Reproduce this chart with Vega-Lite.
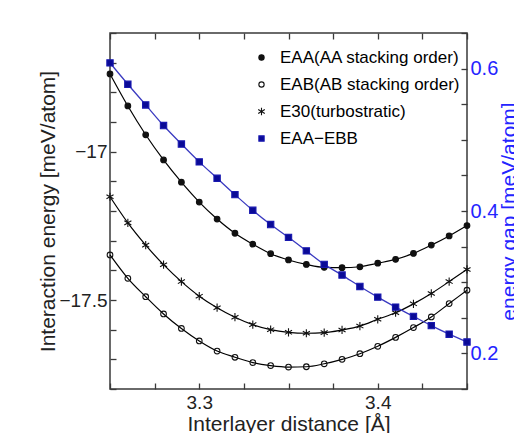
{
  "$schema": "https://vega.github.io/schema/vega-lite/v6.json",
  "width": 357,
  "height": 356,
  "autosize": {"type": "none"},
  "padding": {"left": 110, "top": 33, "right": 47, "bottom": 44},
  "background": "white",
  "config": {
    "view": {"stroke": "#3a3a3a", "strokeWidth": 1.5},
    "font": "Liberation Sans",
    "axis": {
      "domain": false, "grid": false, "tickColor": "#3a3a3a", "tickWidth": 1.3, "tickSize": -6,
      "labelFont": "Liberation Sans", "titleFont": "Liberation Sans",
      "labelFontSize": 19, "titleFontSize": 21, "titleFontWeight": "normal",
      "labelColor": "#222222", "titleColor": "#222222", "labelOverlap": false
    },
    "legend": {"labelFont": "Liberation Sans"}
  },
  "datasets": {
    "energies": [
      {"distance": 3.25, "energy": -16.738, "series": "AA"},
      {"distance": 3.26, "energy": -16.846, "series": "AA"},
      {"distance": 3.27, "energy": -16.943, "series": "AA"},
      {"distance": 3.28, "energy": -17.028, "series": "AA"},
      {"distance": 3.29, "energy": -17.103, "series": "AA"},
      {"distance": 3.30, "energy": -17.170, "series": "AA"},
      {"distance": 3.31, "energy": -17.227, "series": "AA"},
      {"distance": 3.32, "energy": -17.275, "series": "AA"},
      {"distance": 3.33, "energy": -17.312, "series": "AA"},
      {"distance": 3.34, "energy": -17.344, "series": "AA"},
      {"distance": 3.35, "energy": -17.365, "series": "AA"},
      {"distance": 3.36, "energy": -17.380, "series": "AA"},
      {"distance": 3.37, "energy": -17.390, "series": "AA"},
      {"distance": 3.38, "energy": -17.391, "series": "AA"},
      {"distance": 3.39, "energy": -17.388, "series": "AA"},
      {"distance": 3.40, "energy": -17.376, "series": "AA"},
      {"distance": 3.41, "energy": -17.363, "series": "AA"},
      {"distance": 3.42, "energy": -17.343, "series": "AA"},
      {"distance": 3.43, "energy": -17.315, "series": "AA"},
      {"distance": 3.44, "energy": -17.284, "series": "AA"},
      {"distance": 3.45, "energy": -17.249, "series": "AA"},
      {"distance": 3.25, "energy": -17.348, "series": "AB"},
      {"distance": 3.26, "energy": -17.427, "series": "AB"},
      {"distance": 3.27, "energy": -17.489, "series": "AB"},
      {"distance": 3.28, "energy": -17.547, "series": "AB"},
      {"distance": 3.29, "energy": -17.596, "series": "AB"},
      {"distance": 3.30, "energy": -17.638, "series": "AB"},
      {"distance": 3.31, "energy": -17.672, "series": "AB"},
      {"distance": 3.32, "energy": -17.693, "series": "AB"},
      {"distance": 3.33, "energy": -17.711, "series": "AB"},
      {"distance": 3.34, "energy": -17.721, "series": "AB"},
      {"distance": 3.35, "energy": -17.726, "series": "AB"},
      {"distance": 3.36, "energy": -17.725, "series": "AB"},
      {"distance": 3.37, "energy": -17.715, "series": "AB"},
      {"distance": 3.38, "energy": -17.700, "series": "AB"},
      {"distance": 3.39, "energy": -17.681, "series": "AB"},
      {"distance": 3.40, "energy": -17.656, "series": "AB"},
      {"distance": 3.41, "energy": -17.626, "series": "AB"},
      {"distance": 3.42, "energy": -17.593, "series": "AB"},
      {"distance": 3.43, "energy": -17.557, "series": "AB"},
      {"distance": 3.44, "energy": -17.512, "series": "AB"},
      {"distance": 3.45, "energy": -17.467, "series": "AB"},
      {"distance": 3.25, "energy": -17.152, "series": "30"},
      {"distance": 3.26, "energy": -17.240, "series": "30"},
      {"distance": 3.27, "energy": -17.315, "series": "30"},
      {"distance": 3.28, "energy": -17.381, "series": "30"},
      {"distance": 3.29, "energy": -17.438, "series": "30"},
      {"distance": 3.30, "energy": -17.487, "series": "30"},
      {"distance": 3.31, "energy": -17.526, "series": "30"},
      {"distance": 3.32, "energy": -17.558, "series": "30"},
      {"distance": 3.33, "energy": -17.583, "series": "30"},
      {"distance": 3.34, "energy": -17.600, "series": "30"},
      {"distance": 3.35, "energy": -17.609, "series": "30"},
      {"distance": 3.36, "energy": -17.612, "series": "30"},
      {"distance": 3.37, "energy": -17.610, "series": "30"},
      {"distance": 3.38, "energy": -17.601, "series": "30"},
      {"distance": 3.39, "energy": -17.588, "series": "30"},
      {"distance": 3.40, "energy": -17.565, "series": "30"},
      {"distance": 3.41, "energy": -17.543, "series": "30"},
      {"distance": 3.42, "energy": -17.513, "series": "30"},
      {"distance": 3.43, "energy": -17.478, "series": "30"},
      {"distance": 3.44, "energy": -17.438, "series": "30"},
      {"distance": 3.45, "energy": -17.397, "series": "30"}
    ],
    "gap": [
      {"distance": 3.25, "gap": 0.608, "series": "gap"},
      {"distance": 3.26, "gap": 0.578, "series": "gap"},
      {"distance": 3.27, "gap": 0.549, "series": "gap"},
      {"distance": 3.28, "gap": 0.520, "series": "gap"},
      {"distance": 3.29, "gap": 0.494, "series": "gap"},
      {"distance": 3.30, "gap": 0.469, "series": "gap"},
      {"distance": 3.31, "gap": 0.446, "series": "gap"},
      {"distance": 3.32, "gap": 0.423, "series": "gap"},
      {"distance": 3.33, "gap": 0.401, "series": "gap"},
      {"distance": 3.34, "gap": 0.381, "series": "gap"},
      {"distance": 3.35, "gap": 0.363, "series": "gap"},
      {"distance": 3.36, "gap": 0.344, "series": "gap"},
      {"distance": 3.37, "gap": 0.325, "series": "gap"},
      {"distance": 3.38, "gap": 0.310, "series": "gap"},
      {"distance": 3.39, "gap": 0.294, "series": "gap"},
      {"distance": 3.40, "gap": 0.279, "series": "gap"},
      {"distance": 3.41, "gap": 0.265, "series": "gap"},
      {"distance": 3.42, "gap": 0.252, "series": "gap"},
      {"distance": 3.43, "gap": 0.239, "series": "gap"},
      {"distance": 3.44, "gap": 0.227, "series": "gap"},
      {"distance": 3.45, "gap": 0.216, "series": "gap"}
    ]
  },
  "layer": [
    {
      "data": {"name": "energies"},
      "encoding": {
        "x": {
          "field": "distance", "type": "quantitative",
          "scale": {"domain": [3.25, 3.45], "nice": false, "zero": false},
          "axis": {
            "orient": "bottom",
            "values": [3.25, 3.275, 3.3, 3.325, 3.35, 3.375, 3.4, 3.425, 3.45],
            "labelExpr": "datum.value == 3.3 ? '3.3' : datum.value == 3.4 ? '3.4' : ''",
            "labelPadding": 10,
            "title": "Interlayer distance [Å]",
            "titlePadding": 1
          }
        },
        "y": {
          "field": "energy", "type": "quantitative",
          "scale": {"domain": [-17.8, -16.6], "nice": false, "zero": false},
          "axis": {
            "orient": "left",
            "values": [-17.8, -17.7, -17.6, -17.5, -17.4, -17.3, -17.2, -17.1, -17, -16.9, -16.8, -16.7, -16.6],
            "labelExpr": "datum.value == -17 ? '−17' : datum.value == -17.5 ? '−17.5' : ''",
            "labelPadding": 9,
            "title": "Interaction energy [meV/atom]",
            "titlePadding": 0
          }
        }
      },
      "layer": [
        {
          "mark": {"type": "line", "interpolate": "monotone", "color": "black", "strokeWidth": 1.2},
          "encoding": {"detail": {"field": "series"}}
        },
        {
          "mark": {"type": "point", "opacity": 1, "strokeWidth": 1.1, "size": 32},
          "encoding": {
            "shape": {"field": "series", "type": "nominal",
              "scale": {"domain": ["AA", "AB", "30", "gap"], "range": ["circle", "circle", "M0,-1.45L0,1.45M-1.25,-0.72L1.25,0.72M-1.25,0.72L1.25,-0.72", "square"]},
              "legend": {
                "title": null, "orient": "none", "legendX": 143, "legendY": 16, "padding": 0,
                "labelFontSize": 17, "labelOffset": 10, "labelLimit": 0, "symbolSize": 28, "rowPadding": 9, "symbolStrokeWidth": 1.1,
                "labelExpr": "datum.value == 'AA' ? 'EAA(AA stacking order)' : datum.value == 'AB' ? 'EAB(AB stacking order)' : datum.value == '30' ? 'E30(turbostratic)' : 'EAA−EBB'",
                "encode": {"labels": {"update": {"fill": {"signal": "datum.value == 'gap' ? '#2b2bff' : '#111111'"}}}}
              }
            },
            "stroke": {"field": "series", "type": "nominal",
              "scale": {"domain": ["AA", "AB", "30", "gap"], "range": ["#111111", "#111111", "#111111", "#1818b0"]},
              "legend": {"title": null}
            },
            "fill": {"field": "series", "type": "nominal",
              "scale": {"domain": ["AA", "AB", "30", "gap"], "range": ["#111111", "transparent", "transparent", "#0a0a96"]},
              "legend": {"title": null}
            }
          }
        }
      ]
    },
    {
      "data": {"name": "gap"},
      "encoding": {
        "x": {
          "field": "distance", "type": "quantitative",
          "axis": {
            "orient": "top",
            "values": [3.25, 3.275, 3.3, 3.325, 3.35, 3.375, 3.4, 3.425, 3.45],
            "labels": false, "title": null
          }
        },
        "y": {
          "field": "gap", "type": "quantitative",
          "scale": {"domain": [0.15, 0.65], "nice": false, "zero": false},
          "axis": {
            "orient": "right",
            "values": [0.15, 0.2, 0.25, 0.3, 0.35, 0.4, 0.45, 0.5, 0.55, 0.6, 0.65],
            "labelExpr": "datum.value == 0.2 ? '0.2' : datum.value == 0.4 ? '0.4' : datum.value == 0.6 ? '0.6' : ''",
            "labelPadding": 9,
            "labelFontSize": 20,
            "labelColor": "#2424ff",
            "title": "energy gap [meV/atom]",
            "titleColor": "#2424ff",
            "titleAngle": 270,
            "titleBaseline": "top",
            "titlePadding": 1
          }
        }
      },
      "layer": [
        {
          "mark": {"type": "line", "interpolate": "monotone", "color": "#3a3ac0", "strokeWidth": 1.3},
          "encoding": {}
        },
        {
          "mark": {"type": "point", "opacity": 1, "strokeWidth": 1.1, "size": 40},
          "encoding": {
            "shape": {"field": "series", "type": "nominal"},
            "stroke": {"field": "series", "type": "nominal"},
            "fill": {"field": "series", "type": "nominal"}
          }
        }
      ]
    }
  ],
  "resolve": {"scale": {"y": "independent"}, "axis": {"x": "independent", "y": "independent"}}
}
